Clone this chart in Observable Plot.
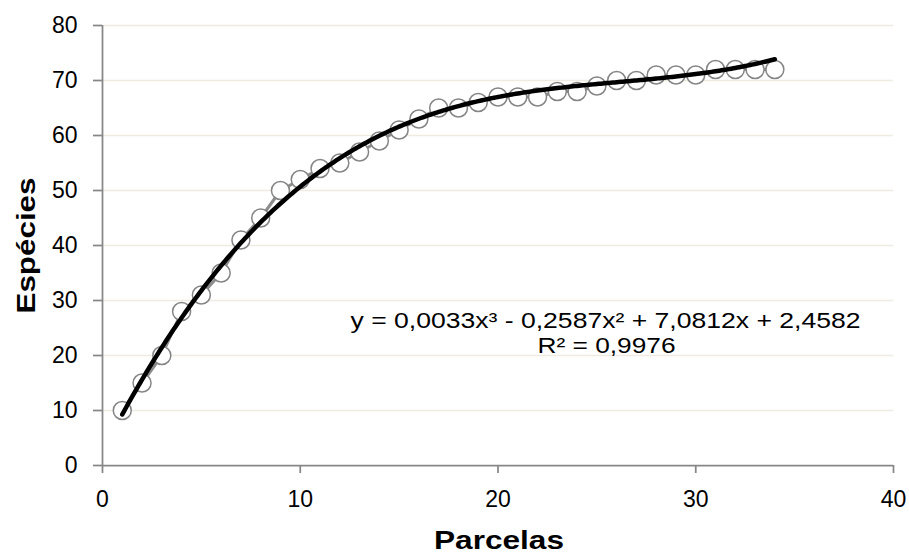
<!DOCTYPE html>
<html>
<head>
<meta charset="utf-8">
<script src="https://cdn.jsdelivr.net/npm/d3@7"></script>
<script src="https://cdn.jsdelivr.net/npm/@observablehq/plot@0.6"></script>
<style>
  html, body { margin: 0; padding: 0; background: #fff; }
  #chart svg g[aria-label="x-axis tick"],
  #chart svg g[aria-label="y-axis tick"] { stroke: #878787; stroke-width: 1.75px; }
</style>
</head>
<body>
<div id="chart"></div>
<script>
// ---- data ----
const parcelas = [1,2,3,4,5,6,7,8,9,10,11,12,13,14,15,16,17,18,19,20,21,22,23,24,25,26,27,28,29,30,31,32,33,34];
const especies = [10,15,20,28,31,35,41,45,50,52,54,55,57,59,61,63,65,65,66,67,67,67,68,68,69,70,70,71,71,71,72,72,72,72];
const xTicks = [0,10,20,30,40];
const yTicks = [0,10,20,30,40,50,60,70,80];
// polynomial trendline coefficients shown on the chart (x^3, x^2, x, 1)
const trendCoefficients = [0.0033, -0.2587, 7.0812, 2.4582];
const equationLabel = "y = 0,0033x³ - 0,2587x² + 7,0812x + 2,4582";
const r2Label = "R² = 0,9976";
const xTitle = "Parcelas";
const yTitle = "Espécies";

const data = parcelas.map((p, i) => ({x: p, y: especies[i]}));
const trendX = d3.range(parcelas[0], parcelas[parcelas.length - 1] + 1e-9, 0.1);
const [a3, a2, a1, a0] = trendCoefficients;
const trend = trendX.map(x => ({x, y: a3 * x ** 3 + a2 * x ** 2 + a1 * x + a0}));

const axisGray = "#878787";

const plot = Plot.plot({
  width: 909,
  height: 553,
  marginLeft: 102,
  marginRight: 16,
  marginTop: 25,
  marginBottom: 88,
  style: {fontFamily: "'Liberation Sans', Arial, sans-serif", color: "black", background: "white"},
  x: {domain: [0, 40]},
  y: {domain: [0, 80]},
  marks: [
    Plot.gridY(yTicks.filter(v => v > 0), {stroke: "#eeece1", strokeOpacity: 1, strokeWidth: 1.5}),
    Plot.ruleY([0], {stroke: axisGray, strokeWidth: 1.75}),
    Plot.ruleX([0], {stroke: axisGray, strokeWidth: 1.75}),
    Plot.axisX(xTicks, {tickSize: 8, tickPadding: 17, fontSize: 23, label: null, stroke: axisGray}),
    Plot.axisY(yTicks, {tickSize: 9, tickPadding: 16, fontSize: 23, label: null, stroke: axisGray}),
    Plot.line(data, {x: "x", y: "y", stroke: "#8c8c8c", strokeWidth: 3}),
    Plot.dot(data, {x: "x", y: "y", r: 9, stroke: "#858585", strokeWidth: 1.5, fill: "white"}),
    Plot.line(trend, {x: "x", y: "y", stroke: "black", strokeWidth: 4.5, strokeLinecap: "round"}),
    Plot.text([equationLabel], {frameAnchor: "top-left", textAnchor: "start", lineAnchor: "bottom",
      dx: 248, dy: 302, fontSize: 22, fill: "black"}),
    Plot.text([r2Label], {frameAnchor: "top-left", textAnchor: "middle", lineAnchor: "bottom",
      dx: 504, dy: 327, fontSize: 22, fill: "black"}),
    Plot.text([xTitle], {frameAnchor: "bottom", textAnchor: "middle", lineAnchor: "bottom",
      dx: 1, dy: 83, fontSize: 25, fontWeight: "bold", fill: "black"}),
    Plot.text([yTitle], {frameAnchor: "left", textAnchor: "middle", lineAnchor: "middle", rotate: -90,
      dx: -76, fontSize: 25, fontWeight: "bold", fill: "black"})
  ]
});

document.getElementById("chart").appendChild(plot);

function stretch(str, len) {
  for (const t of plot.querySelectorAll("text")) {
    if (t.textContent === str) {
      t.setAttribute("textLength", len);
      t.setAttribute("lengthAdjust", "spacingAndGlyphs");
    }
  }
}
stretch(equationLabel, 510);
stretch(r2Label, 138);
stretch(xTitle, 130);
stretch(yTitle, 136);
</script>
</body>
</html>
